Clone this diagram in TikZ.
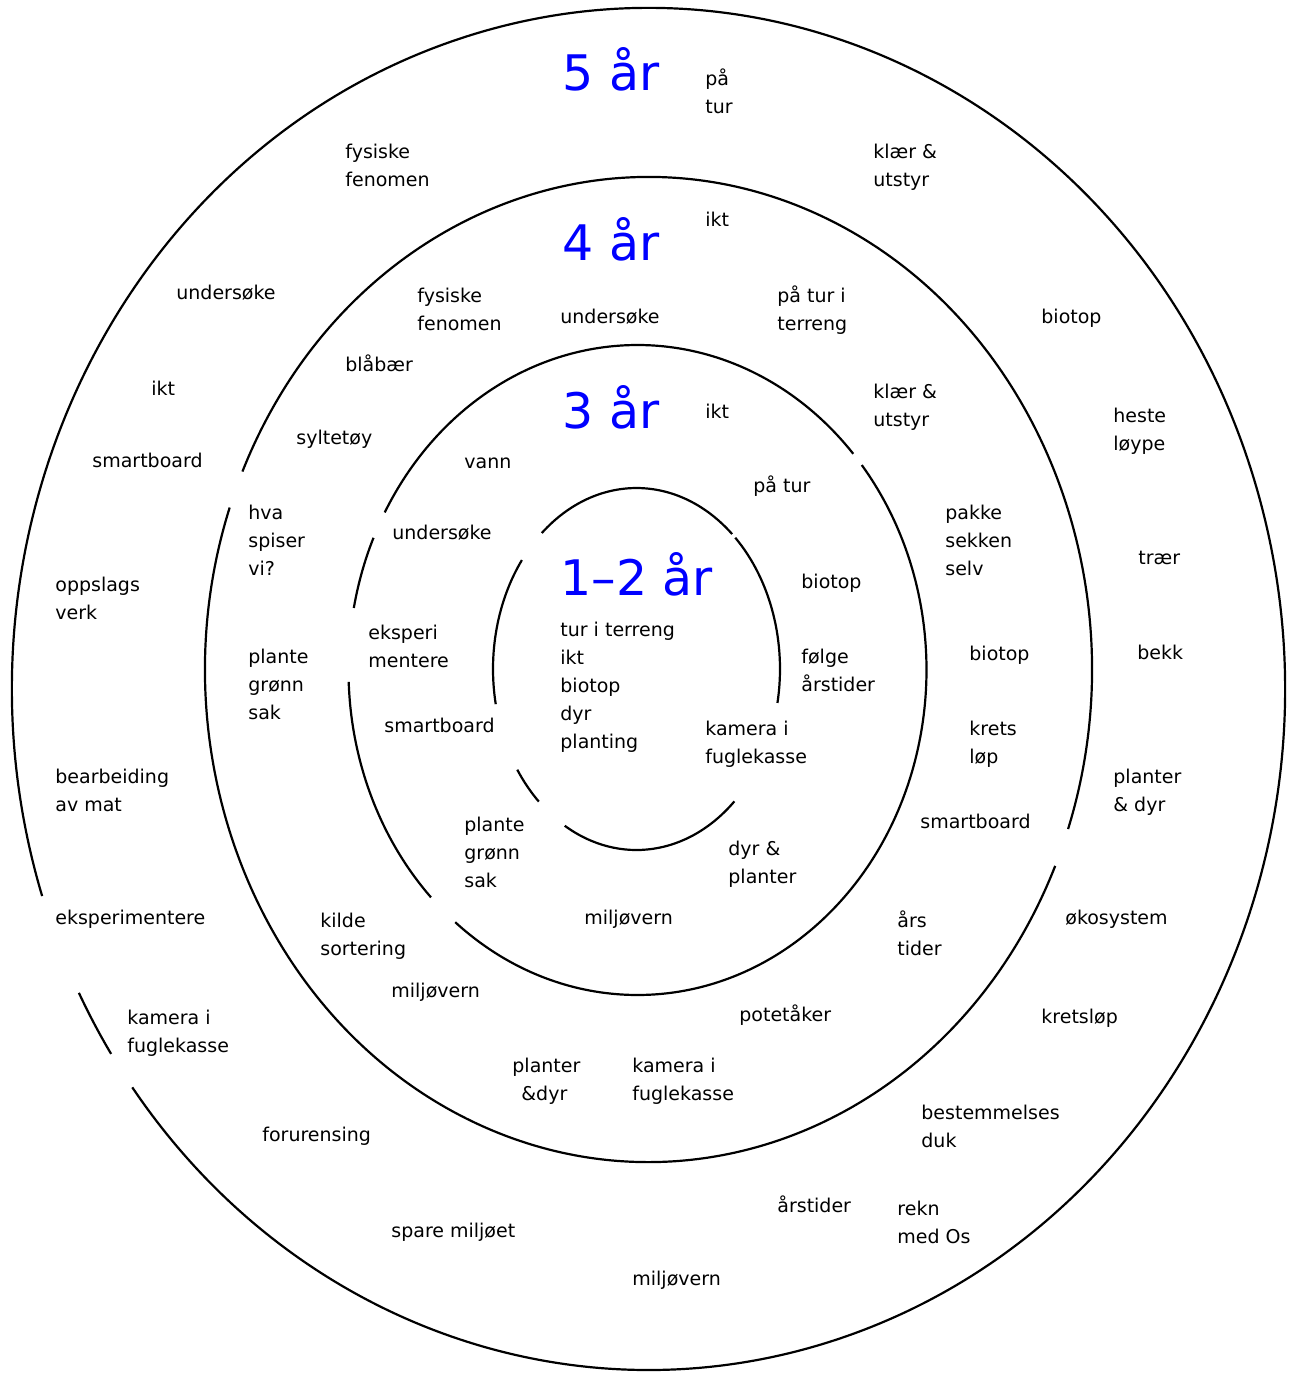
\documentclass[tikz,border=0pt]{standalone}
\usepackage{fontspec}
\setmainfont{DejaVu Sans}
\begin{document}
\begin{tikzpicture}[x=0.5pt,y=-0.5pt,
  ring/.style={line width=1.1pt,black},
  lbl/.style={anchor=north west,inner sep=0pt,yshift=-1pt,align=left,font=\fontsize{9.5}{14}\selectfont},
  ttl/.style={anchor=base west,inner sep=0pt,text=blue,font=\fontsize{24.5}{30}\selectfont}]
\useasboundingbox (0,0) rectangle (1292,1378);
% ring centres
\coordinate (c5) at (648.5,689);
\coordinate (c4) at (648.5,669.5);
\coordinate (c3) at (637.5,670);
\coordinate (c1) at (636.5,669);
% outer ring (5 år)
\foreach \a/\b in {-197.7/144.2, 147.6/153.5}
  \draw[ring] (c5) ++(\a:636.5 and 681) arc[start angle=\a,end angle=\b,x radius=636.5,y radius=681];
% 4 år ring
\foreach \a/\b in {23.5/199.2, 203.7/378.9}
  \draw[ring] (c4) ++(\a:443.5 and 492.5) arc[start angle=\a,end angle=\b,x radius=443.5,y radius=492.5];
% 3 år ring
\foreach \a/\b in {-39.1/129.1, 135.6/177.9, 191/204, 209/318.3}
  \draw[ring] (c3) ++(\a:289 and 325) arc[start angle=\a,end angle=\b,x radius=289,y radius=325];
% 1-2 år ring
\foreach \a/\b in {228.7/311.8, 313.5/370.8, 47/120, 132.9/146.2, 168.8/217}
  \draw[ring] (c1) ++(\a:143.5 and 181) arc[start angle=\a,end angle=\b,x radius=143.5,y radius=181];
% titles
\node[ttl] (t5) at (562,90) {5 år};
\node[ttl] (t4) at (562,260) {4 år};
\node[ttl] (t3) at (562,428) {3 år};
\node[ttl] (t1) at (560,595) {1–2 år};
% outer ring labels
\node[lbl] (o1) at (705,63) {\strut på\\tur};
\node[lbl] (o2) at (345,136) {\strut fysiske\\fenomen};
\node[lbl] (o3) at (873,136) {\strut klær \&\\utstyr};
\node[lbl] (o4) at (176,277) {\strut undersøke};
\node[lbl] (o5) at (1041,301) {\strut biotop};
\node[lbl] (o6) at (151,373) {\strut ikt};
\node[lbl] (o7) at (1113,400) {\strut heste\\løype};
\node[lbl] (o8) at (92,445) {\strut smartboard};
\node[lbl] (o9) at (1138,542) {\strut trær};
\node[lbl] (o10) at (55,569) {\strut oppslags\\verk};
\node[lbl] (o11) at (1137,637) {\strut bekk};
\node[lbl] (o12) at (55,761) {\strut bearbeiding\\av mat};
\node[lbl] (o13) at (1113,761) {\strut planter\\\& dyr};
\node[lbl] (o14) at (55,902) {\strut eksperimentere};
\node[lbl] (o15) at (1065,902) {\strut økosystem};
\node[lbl] (o16) at (127,1002) {\strut kamera i\\fuglekasse};
\node[lbl] (o17) at (1041,1001) {\strut kretsløp};
\node[lbl] (o18) at (262,1119) {\strut forurensing};
\node[lbl] (o19) at (921,1097) {\strut bestemmelses\\duk};
\node[lbl] (o20) at (777,1190) {\strut årstider};
\node[lbl] (o21) at (897,1193) {\strut rekn\\med Os};
\node[lbl] (o22) at (391,1215) {\strut spare miljøet};
\node[lbl] (o23) at (632,1263) {\strut miljøvern};
% 4 år labels
\node[lbl] (f1) at (705,204) {\strut ikt};
\node[lbl] (f2) at (417,280) {\strut fysiske\\fenomen};
\node[lbl] (f3) at (560,301) {\strut undersøke};
\node[lbl] (f4) at (777,280) {\strut på tur i\\terreng};
\node[lbl] (f5) at (345,349) {\strut blåbær};
\node[lbl] (f6) at (873,376) {\strut klær \&\\utstyr};
\node[lbl] (f7) at (296,422) {\strut syltetøy};
\node[lbl] (f8) at (248,497) {\strut hva\\spiser\\vi?};
\node[lbl] (f9) at (945,497) {\strut pakke\\sekken\\selv};
\node[lbl] (f10) at (248,641) {\strut plante\\grønn\\sak};
\node[lbl] (f11) at (969,638) {\strut biotop};
\node[lbl] (f12) at (969,713) {\strut krets\\løp};
\node[lbl] (f13) at (920,806) {\strut smartboard};
\node[lbl] (f14) at (320,905) {\strut kilde\\sortering};
\node[lbl] (f15) at (897,905) {\strut års\\tider};
\node[lbl] (f16) at (391,975) {\strut miljøvern};
\node[lbl] (f17) at (739,999) {\strut potetåker};
\node[lbl] (f18) at (512,1050) {\strut planter\\\hspace*{4.5pt}\&dyr};
\node[lbl] (f19) at (632,1050) {\strut kamera i\\fuglekasse};
% 3 år labels
\node[lbl] (h1) at (705,396) {\strut ikt};
\node[lbl] (h2) at (464,446) {\strut vann};
\node[lbl] (h3) at (753,470) {\strut på tur};
\node[lbl] (h4) at (392,517) {\strut undersøke};
\node[lbl] (h5) at (801,566) {\strut biotop};
\node[lbl] (h6) at (368,617) {\strut eksperi\\mentere};
\node[lbl] (h7) at (801,641) {\strut følge\\årstider};
\node[lbl] (h8) at (384,710) {\strut smartboard};
\node[lbl] (h9) at (705,713) {\strut kamera i\\fuglekasse};
\node[lbl] (h10) at (464,809) {\strut plante\\grønn\\sak};
\node[lbl] (h11) at (728,833) {\strut dyr \&\\planter};
\node[lbl] (h12) at (584,902) {\strut miljøvern};
% 1-2 år labels
\node[lbl] (e1) at (560,614) {\strut tur i terreng\\ikt\\biotop\\dyr\\planting};
\end{tikzpicture}
\end{document}
